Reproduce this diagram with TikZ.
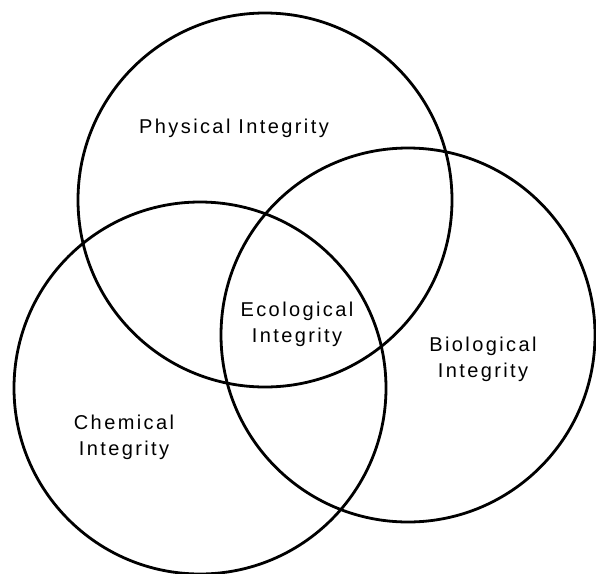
\documentclass[tikz,border=0pt]{standalone}
\usepackage{fontspec}
\newfontfamily\vennfont{Liberation Sans}[LetterSpace=12]
\tikzset{
  ring/.style={line width=2.8pt},
  area/.style={font=\vennfont\fontsize{20pt}{26pt}\selectfont, align=center, inner sep=0pt}
}
\begin{document}
\begin{tikzpicture}[x=1pt,y=-1pt]
	\useasboundingbox (0,0) rectangle (596,573);
	\coordinate (phys) at (265,200);	\draw [ring] (phys) circle [radius=187];
	\coordinate (chem) at (200,388);	\draw [ring] (chem) circle [radius=186];
	\coordinate (bio) at (408,335);		\draw [ring] (bio) circle [radius=187];

	\node [area] (physlbl) at (234,128) {Physical Integrity};
	\node [area] (ecolbl) at (297,324) {Ecological\\Integrity};
	\node [area] (biolbl) at (483,359) {Biological\\Integrity};
	\node [area] (chemlbl) at (124,437) {Chemical\\Integrity};
\end{tikzpicture}
\end{document}
